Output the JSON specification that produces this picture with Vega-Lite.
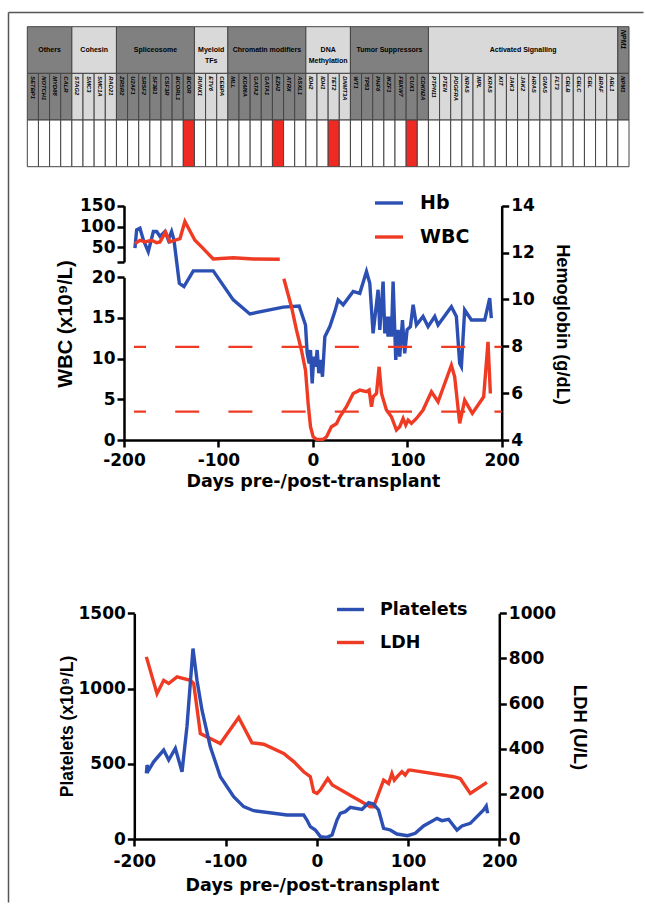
{
  "$schema": "https://vega.github.io/schema/vega-lite/v6.json",
  "width": 637,
  "height": 894,
  "autosize": {"type": "none"},
  "padding": {"left": 8, "top": 12, "right": 0, "bottom": 0},
  "background": "white",
  "view": {"stroke": null, "fill": null},
  "config": {
    "axis": {"domainColor": "black", "domainWidth": 2.5, "tickColor": "black", "tickWidth": 2.5, "tickSize": 7, "labelFont": "DejaVu Sans", "labelFontWeight": "bold", "labelFontSize": 17, "labelColor": "black", "titleColor": "black", "titleFont": "Liberation Sans", "titleFontWeight": "bold", "titleFontSize": 18, "grid": false, "labelPadding": 2, "labelFlush": false, "labelOverlap": false},
    "line": {"strokeWidth": 3.4}
  },
  "datasets": {
    "genes": [
      {"g": "SETBP1", "c": "Others", "m": 0}, {"g": "NOTCH1", "c": "Others", "m": 0}, {"g": "MYD88", "c": "Others", "m": 0}, {"g": "CALR", "c": "Others", "m": 0},
      {"g": "STAG2", "c": "Cohesin", "m": 0}, {"g": "SMC3", "c": "Cohesin", "m": 0}, {"g": "SMC1A", "c": "Cohesin", "m": 0}, {"g": "RAD21", "c": "Cohesin", "m": 0},
      {"g": "ZRSR2", "c": "Spliceosome", "m": 0}, {"g": "U2AF1", "c": "Spliceosome", "m": 0}, {"g": "SRSF2", "c": "Spliceosome", "m": 0}, {"g": "SF3B1", "c": "Spliceosome", "m": 0}, {"g": "CSF3R", "c": "Spliceosome", "m": 0}, {"g": "BCORL1", "c": "Spliceosome", "m": 0}, {"g": "BCOR", "c": "Spliceosome", "m": 1},
      {"g": "RUNX1", "c": "Myeloid TFs", "m": 0}, {"g": "ETV6", "c": "Myeloid TFs", "m": 0}, {"g": "CEBPA", "c": "Myeloid TFs", "m": 0},
      {"g": "MLL", "c": "Chromatin modifiers", "m": 0}, {"g": "KDM6A", "c": "Chromatin modifiers", "m": 0}, {"g": "GATA2", "c": "Chromatin modifiers", "m": 0}, {"g": "GATA1", "c": "Chromatin modifiers", "m": 0}, {"g": "EZH2", "c": "Chromatin modifiers", "m": 1}, {"g": "ATRX", "c": "Chromatin modifiers", "m": 0}, {"g": "ASXL1", "c": "Chromatin modifiers", "m": 0},
      {"g": "IDH2", "c": "DNA Methylation", "m": 0}, {"g": "IDH1", "c": "DNA Methylation", "m": 0}, {"g": "TET2", "c": "DNA Methylation", "m": 1}, {"g": "DNMT3A", "c": "DNA Methylation", "m": 0},
      {"g": "WT1", "c": "Tumor Suppressors", "m": 0}, {"g": "TP53", "c": "Tumor Suppressors", "m": 0}, {"g": "PHF6", "c": "Tumor Suppressors", "m": 0}, {"g": "IKZF1", "c": "Tumor Suppressors", "m": 0}, {"g": "FBXW7", "c": "Tumor Suppressors", "m": 0}, {"g": "CUX1", "c": "Tumor Suppressors", "m": 1}, {"g": "CDKN2A", "c": "Tumor Suppressors", "m": 0},
      {"g": "PTPN11", "c": "Activated Signalling", "m": 0}, {"g": "PTEN", "c": "Activated Signalling", "m": 0}, {"g": "PDGFRA", "c": "Activated Signalling", "m": 0}, {"g": "NRAS", "c": "Activated Signalling", "m": 0}, {"g": "MPL", "c": "Activated Signalling", "m": 0}, {"g": "KRAS", "c": "Activated Signalling", "m": 0}, {"g": "KIT", "c": "Activated Signalling", "m": 0}, {"g": "JAK3", "c": "Activated Signalling", "m": 0}, {"g": "JAK2", "c": "Activated Signalling", "m": 0}, {"g": "HRAS", "c": "Activated Signalling", "m": 0}, {"g": "GNAS", "c": "Activated Signalling", "m": 0}, {"g": "FLT3", "c": "Activated Signalling", "m": 0}, {"g": "CBLB", "c": "Activated Signalling", "m": 0}, {"g": "CBLC", "c": "Activated Signalling", "m": 0}, {"g": "CBL", "c": "Activated Signalling", "m": 0}, {"g": "BRAF", "c": "Activated Signalling", "m": 0}, {"g": "ABL1", "c": "Activated Signalling", "m": 0},
      {"g": "NPM1", "c": "NPM1", "m": 0}
    ],
    "cats": [
      {"c": "Others", "lab": "Others", "first": "SETBP1", "last": "CALR", "mid": "MYD88", "even": 1},
      {"c": "Cohesin", "lab": "Cohesin", "first": "STAG2", "last": "RAD21", "mid": "SMC1A", "even": 1},
      {"c": "Spliceosome", "lab": "Spliceosome", "first": "ZRSR2", "last": "BCOR", "mid": "SF3B1", "even": 0},
      {"c": "Myeloid TFs", "lab": "Myeloid\nTFs", "first": "RUNX1", "last": "CEBPA", "mid": "ETV6", "even": 0},
      {"c": "Chromatin modifiers", "lab": "Chromatin modifiers", "first": "MLL", "last": "ASXL1", "mid": "GATA1", "even": 0},
      {"c": "DNA Methylation", "lab": "DNA\nMethylation", "first": "IDH2", "last": "DNMT3A", "mid": "TET2", "even": 1},
      {"c": "Tumor Suppressors", "lab": "Tumor Suppressors", "first": "WT1", "last": "CDKN2A", "mid": "IKZF1", "even": 0},
      {"c": "Activated Signalling", "lab": "Activated Signalling", "first": "PTPN11", "last": "ABL1", "mid": "JAK2", "even": 0},
      {"c": "NPM1", "lab": "NPM1", "first": "NPM1", "last": "NPM1", "mid": "NPM1", "even": 2}
    ],
    "hb": [
      {"d": -188.4, "v": 12.19}, {"d": -186.6, "v": 12.97}, {"d": -183.1, "v": 13.04}, {"d": -179.5, "v": 12.54}, {"d": -174.3, "v": 12.04}, {"d": -168.9, "v": 12.9}, {"d": -165.4, "v": 12.9}, {"d": -161.9, "v": 12.69}, {"d": -156.6, "v": 12.9}, {"d": -153.1, "v": 12.54}, {"d": -149.6, "v": 12.9}, {"d": -147.1, "v": 12.54}, {"d": -141.4, "v": 10.69}, {"d": -136.5, "v": 10.55}, {"d": -126.6, "v": 11.22}, {"d": -105.5, "v": 11.22}, {"d": -84.3, "v": 9.98}, {"d": -66.7, "v": 9.38}, {"d": -31.4, "v": 9.67}, {"d": -14.5, "v": 9.72}, {"d": -7.8, "v": 8.91}, {"d": -6.0, "v": 7.7}, {"d": -3.9, "v": 7.27}, {"d": -2.5, "v": 7.84}, {"d": -0.7, "v": 6.42}, {"d": 1.0, "v": 7.56}, {"d": 2.8, "v": 7.13}, {"d": 4.6, "v": 7.84}, {"d": 6.3, "v": 6.85}, {"d": 8.4, "v": 7.42}, {"d": 10.2, "v": 6.7}, {"d": 12.7, "v": 8.41}, {"d": 18.0, "v": 8.84}, {"d": 23.3, "v": 9.48}, {"d": 26.8, "v": 9.98}, {"d": 32.1, "v": 9.77}, {"d": 42.7, "v": 10.34}, {"d": 49.7, "v": 10.26}, {"d": 56.8, "v": 11.19}, {"d": 60.3, "v": 10.69}, {"d": 63.8, "v": 8.55}, {"d": 69.1, "v": 10.41}, {"d": 70.9, "v": 8.7}, {"d": 74.4, "v": 10.76}, {"d": 76.2, "v": 8.55}, {"d": 77.9, "v": 9.27}, {"d": 79.7, "v": 8.41}, {"d": 81.5, "v": 9.27}, {"d": 83.2, "v": 8.41}, {"d": 85.0, "v": 10.76}, {"d": 87.8, "v": 7.42}, {"d": 90.3, "v": 8.7}, {"d": 92.0, "v": 7.56}, {"d": 94.9, "v": 9.12}, {"d": 97.3, "v": 7.7}, {"d": 99.8, "v": 8.7}, {"d": 103.3, "v": 8.84}, {"d": 106.2, "v": 9.77}, {"d": 109.7, "v": 8.91}, {"d": 116.7, "v": 9.27}, {"d": 122.0, "v": 8.84}, {"d": 129.1, "v": 9.27}, {"d": 132.6, "v": 8.91}, {"d": 146.7, "v": 9.69}, {"d": 152.0, "v": 9.27}, {"d": 155.5, "v": 7.27}, {"d": 157.3, "v": 7.13}, {"d": 160.8, "v": 9.55}, {"d": 167.9, "v": 9.12}, {"d": 182.0, "v": 9.12}, {"d": 187.3, "v": 10.05}, {"d": 189.0, "v": 9.2}
    ],
    "wbcU": [
      {"d": -188.4, "v": 59}, {"d": -183.1, "v": 67}, {"d": -177.8, "v": 63}, {"d": -170.7, "v": 67}, {"d": -165.4, "v": 61}, {"d": -161.9, "v": 63}, {"d": -156, "v": 87}, {"d": -151.3, "v": 63}, {"d": -146, "v": 67}, {"d": -140.7, "v": 71}, {"d": -135.5, "v": 112}, {"d": -124.9, "v": 67}, {"d": -117.8, "v": 51}, {"d": -105.5, "v": 22}, {"d": -84.3, "v": 25}, {"d": -63.2, "v": 22}, {"d": -35, "v": 21.5}
    ],
    "wbcL": [
      {"d": -30.7, "v": 19.83}, {"d": -22.6, "v": 16.35}, {"d": -17.3, "v": 13.5}, {"d": -12, "v": 11.0}, {"d": -7.8, "v": 8.6}, {"d": -5.0, "v": 4.5}, {"d": -2.5, "v": 1.63}, {"d": 0.3, "v": 0.4}, {"d": 3.9, "v": 0.08}, {"d": 10.9, "v": 0.08}, {"d": 14.5, "v": 0.4}, {"d": 19.7, "v": 1.63}, {"d": 25, "v": 2.0}, {"d": 28.6, "v": 2.86}, {"d": 35.6, "v": 4.09}, {"d": 42.7, "v": 5.72}, {"d": 49.7, "v": 6.13}, {"d": 56.8, "v": 5.93}, {"d": 59.6, "v": 6.13}, {"d": 62.1, "v": 4.09}, {"d": 63.8, "v": 5.31}, {"d": 67.4, "v": 5.72}, {"d": 70.2, "v": 9.0}, {"d": 72.7, "v": 5.72}, {"d": 77.9, "v": 3.68}, {"d": 83.2, "v": 2.86}, {"d": 88.5, "v": 1.23}, {"d": 92.0, "v": 1.63}, {"d": 95.6, "v": 2.65}, {"d": 98.4, "v": 1.84}, {"d": 100.9, "v": 2.45}, {"d": 104.4, "v": 2.04}, {"d": 109.7, "v": 2.65}, {"d": 116.7, "v": 3.68}, {"d": 125.6, "v": 5.93}, {"d": 132.6, "v": 4.7}, {"d": 146.7, "v": 9.2}, {"d": 150.2, "v": 7.77}, {"d": 155.5, "v": 2.04}, {"d": 160.8, "v": 4.9}, {"d": 168.9, "v": 3.27}, {"d": 180.9, "v": 5.31}, {"d": 185.5, "v": 12.06}, {"d": 188, "v": 5.72}
    ],
    "refs": [{"v": 11.45}, {"v": 3.5}],
    "plt": [
      {"d": -186.8, "v": 436}, {"d": -186, "v": 491}, {"d": -184.3, "v": 458}, {"d": -178.8, "v": 513}, {"d": -167.8, "v": 591}, {"d": -162.3, "v": 525}, {"d": -155, "v": 602}, {"d": -147.7, "v": 447}, {"d": -142.3, "v": 746}, {"d": -135.7, "v": 1266}, {"d": -131.3, "v": 1055}, {"d": -125.8, "v": 856}, {"d": -116.7, "v": 613}, {"d": -105.7, "v": 414}, {"d": -91.1, "v": 281}, {"d": -80.2, "v": 215}, {"d": -69.2, "v": 188}, {"d": -47.3, "v": 171}, {"d": -32.7, "v": 160}, {"d": -14.4, "v": 160}, {"d": -10.8, "v": 126}, {"d": -7.1, "v": 82}, {"d": -1.6, "v": 60}, {"d": 3.9, "v": 16}, {"d": 11.2, "v": 11}, {"d": 16.7, "v": 27}, {"d": 22.1, "v": 126}, {"d": 25.7, "v": 171}, {"d": 31.2, "v": 182}, {"d": 36.7, "v": 210}, {"d": 49.5, "v": 197}, {"d": 56.8, "v": 241}, {"d": 62.2, "v": 232}, {"d": 67.7, "v": 193}, {"d": 73.2, "v": 71}, {"d": 80.5, "v": 60}, {"d": 87.8, "v": 33}, {"d": 99.5, "v": 22}, {"d": 107.9, "v": 38}, {"d": 117.0, "v": 87}, {"d": 131.7, "v": 137}, {"d": 137.1, "v": 122}, {"d": 144.4, "v": 131}, {"d": 153.6, "v": 60}, {"d": 159.1, "v": 87}, {"d": 168.2, "v": 104}, {"d": 182.8, "v": 193}, {"d": 185.7, "v": 219}, {"d": 187.2, "v": 171}
    ],
    "ldh": [
      {"d": -186.8, "v": 807}, {"d": -175.1, "v": 644}, {"d": -167.8, "v": 703}, {"d": -162.3, "v": 689}, {"d": -153.2, "v": 718}, {"d": -138.6, "v": 703}, {"d": -134.9, "v": 689}, {"d": -127.6, "v": 467}, {"d": -105.7, "v": 423}, {"d": -85.6, "v": 538}, {"d": -71.0, "v": 426}, {"d": -58.2, "v": 420}, {"d": -36.3, "v": 379}, {"d": -25, "v": 342}, {"d": -14.4, "v": 298}, {"d": -7.1, "v": 276}, {"d": -3.4, "v": 209}, {"d": 0.2, "v": 202}, {"d": 3.9, "v": 217}, {"d": 12, "v": 268}, {"d": 17, "v": 239}, {"d": 58.6, "v": 143}, {"d": 62.2, "v": 143}, {"d": 73.2, "v": 261}, {"d": 78.7, "v": 246}, {"d": 82.3, "v": 290}, {"d": 84.9, "v": 261}, {"d": 89.6, "v": 283}, {"d": 93.3, "v": 298}, {"d": 96.9, "v": 283}, {"d": 100.6, "v": 305}, {"d": 103, "v": 305}, {"d": 149.9, "v": 276}, {"d": 157.2, "v": 268}, {"d": 168.2, "v": 202}, {"d": 186.4, "v": 251}
    ]
  },
  "resolve": {
    "scale": {"x": "independent", "y": "independent", "color": "independent"},
    "axis": {"x": "independent", "y": "independent"},
    "legend": {"color": "independent"}
  },
  "layer": [
    {
      "data": {"name": "refs"},
      "mark": {"type": "point", "opacity": 0},
      "encoding": {
        "x": {"datum": 0, "type": "quantitative", "scale": {"domain": [0, 1], "range": [0, 635], "nice": false, "zero": false},
          "axis": {"orient": "top", "offset": 0, "ticks": false, "labels": false, "title": null, "domainColor": "#555555", "domainWidth": 1.5}},
        "y": {"datum": 0, "type": "quantitative", "scale": {"domain": [0, 1], "range": [0, 890], "nice": false, "zero": false},
          "axis": {"orient": "left", "offset": 0, "ticks": false, "labels": false, "title": null, "domainColor": "#555555", "domainWidth": 1.5}}
      }
    },
    {
      "layer": [
        {
          "data": {"name": "cats"},
          "mark": {"type": "rect", "stroke": "#444444", "strokeWidth": 1},
          "encoding": {
            "x": {"field": "first", "type": "nominal", "bandPosition": 0, "axis": null,
              "scale": {"type": "band", "domain": ["SETBP1","NOTCH1","MYD88","CALR","STAG2","SMC3","SMC1A","RAD21","ZRSR2","U2AF1","SRSF2","SF3B1","CSF3R","BCORL1","BCOR","RUNX1","ETV6","CEBPA","MLL","KDM6A","GATA2","GATA1","EZH2","ATRX","ASXL1","IDH2","IDH1","TET2","DNMT3A","WT1","TP53","PHF6","IKZF1","FBXW7","CUX1","CDKN2A","PTPN11","PTEN","PDGFRA","NRAS","MPL","KRAS","KIT","JAK3","JAK2","HRAS","GNAS","FLT3","CBLB","CBLC","CBL","BRAF","ABL1","NPM1"], "range": [19.3, 621], "paddingInner": 0, "paddingOuter": 0}},
            "x2": {"field": "last", "bandPosition": 1},
            "y": {"datum": 0, "type": "quantitative", "axis": null, "scale": {"domain": [0, 3], "range": [14.7, 154.7], "nice": false, "zero": false}},
            "y2": {"datum": 1},
            "fill": {"condition": {"test": "indexof(['Others','Spliceosome','Chromatin modifiers','Tumor Suppressors','NPM1'], datum.c) >= 0", "value": "#808080"}, "value": "#d9d9d9"}
          }
        },
        {
          "data": {"name": "genes"},
          "mark": {"type": "rect", "stroke": "#444444", "strokeWidth": 1},
          "encoding": {
            "x": {"field": "g", "type": "nominal", "axis": null},
            "y": {"datum": 1, "type": "quantitative"},
            "y2": {"datum": 2},
            "fill": {"condition": {"test": "indexof(['Others','Spliceosome','Chromatin modifiers','Tumor Suppressors','NPM1'], datum.c) >= 0", "value": "#808080"}, "value": "#d9d9d9"}
          }
        },
        {
          "data": {"name": "genes"},
          "mark": {"type": "rect", "stroke": "#444444", "strokeWidth": 1},
          "encoding": {
            "x": {"field": "g", "type": "nominal", "axis": null},
            "y": {"datum": 2, "type": "quantitative"},
            "y2": {"datum": 3},
            "fill": {"condition": {"test": "datum.m == 1", "value": "#ee2a22"}, "value": "white"}
          }
        },
        {
          "data": {"name": "genes"},
          "mark": {"type": "text", "angle": 90, "align": "left", "baseline": "middle", "dx": 3, "font": "Liberation Sans Narrow, Liberation Sans, sans-serif", "fontSize": 5.8, "fontWeight": "bold", "fontStyle": "italic", "color": "black"},
          "encoding": {
            "x": {"field": "g", "type": "nominal", "axis": null},
            "y": {"datum": 1, "type": "quantitative"},
            "text": {"field": "g"}
          }
        },
        {
          "data": {"name": "cats"},
          "transform": [{"filter": "datum.even == 1"}],
          "mark": {"type": "text", "align": "center", "baseline": "middle", "lineBreak": "\n", "lineHeight": 11, "font": "Liberation Sans Narrow, Liberation Sans, sans-serif", "fontSize": 7, "fontWeight": "bold", "color": "black"},
          "encoding": {
            "x": {"field": "mid", "type": "nominal", "bandPosition": 0, "axis": null},
            "y": {"datum": 0.5, "type": "quantitative"},
            "text": {"field": "lab"}
          }
        },
        {
          "data": {"name": "cats"},
          "transform": [{"filter": "datum.even == 0"}],
          "mark": {"type": "text", "align": "center", "baseline": "middle", "lineBreak": "\n", "lineHeight": 11, "font": "Liberation Sans Narrow, Liberation Sans, sans-serif", "fontSize": 7, "fontWeight": "bold", "color": "black"},
          "encoding": {
            "x": {"field": "mid", "type": "nominal", "axis": null},
            "y": {"datum": 0.5, "type": "quantitative"},
            "text": {"field": "lab"}
          }
        },
        {
          "data": {"name": "cats"},
          "transform": [{"filter": "datum.even == 2"}],
          "mark": {"type": "text", "angle": 90, "align": "left", "baseline": "middle", "dx": 3, "font": "Liberation Sans Narrow, Liberation Sans, sans-serif", "fontSize": 7, "fontWeight": "bold", "fontStyle": "italic", "color": "black"},
          "encoding": {
            "x": {"field": "mid", "type": "nominal", "axis": null},
            "y": {"datum": 0, "type": "quantitative"},
            "text": {"field": "lab"}
          }
        }
      ]
    },
    {
      "resolve": {"scale": {"y": "independent"}, "axis": {"y": "independent"}},
      "layer": [
        {
          "data": {"name": "hb"},
          "mark": {"type": "line", "strokeWidth": 3.4},
          "encoding": {
            "x": {"field": "d", "type": "quantitative",
              "scale": {"domain": [-200, 200], "range": [116, 493.7], "nice": false, "zero": false},
              "axis": {"orient": "bottom", "offset": -466, "values": [-200, -100, 0, 100, 200], "labelExpr": "'' + datum.value", "labelPadding": 5, "title": "Days pre-/post-transplant", "titleFont": "DejaVu Sans", "titleFontSize": 17.5, "titleX": 305, "titleY": 41, "titleAlign": "center", "titleBaseline": "middle", "titleAngle": 0}},
            "y": {"field": "v", "type": "quantitative",
              "scale": {"domain": [4, 14], "range": [428, 193.7], "nice": false, "zero": false},
              "axis": {"orient": "right", "offset": -143.3, "values": [4, 6, 8, 10, 12, 14], "labelExpr": "'' + datum.value", "title": "Hemoglobin (g/dL)", "titleFontSize": 18.2, "titleAngle": 90, "titleX": 59.3, "titleY": 312, "titleAlign": "center", "titleBaseline": "middle"}},
            "color": {"datum": "Hb", "type": "nominal",
              "scale": {"domain": ["Hb", "WBC"], "range": ["#2b4fb3", "#ef3b24"]},
              "legend": {"orient": "none", "legendX": 365, "legendY": 175, "direction": "vertical", "title": null, "symbolType": "stroke", "symbolSize": 784, "symbolStrokeWidth": 3.5, "labelFont": "DejaVu Sans", "labelFontSize": 19, "labelFontWeight": "bold", "labelColor": "black", "labelOffset": 15, "rowPadding": 8, "padding": 0}}
          }
        },
        {
          "data": {"name": "wbcU"},
          "mark": {"type": "line", "strokeWidth": 3.4},
          "encoding": {
            "x": {"field": "d", "type": "quantitative"},
            "y": {"field": "v", "type": "quantitative",
              "scale": {"domain": [15, 150], "range": [249.9, 193.7], "nice": false, "zero": false},
              "axis": {"orient": "left", "offset": -116, "values": [15, 50, 100, 150], "labelExpr": "datum.value == 15 ? '' : '' + datum.value", "title": null}},
            "color": {"datum": "WBC", "type": "nominal"}
          }
        },
        {
          "layer": [
            {
              "data": {"name": "wbcL"},
              "mark": {"type": "line", "strokeWidth": 3.4},
              "encoding": {
                "x": {"field": "d", "type": "quantitative"},
                "y": {"field": "v", "type": "quantitative",
                  "scale": {"domain": [0, 20], "range": [428, 265.3], "nice": false, "zero": false},
                  "axis": {"orient": "left", "offset": -116, "values": [0, 5, 10, 15, 20], "labelExpr": "'' + datum.value", "title": "WBC (x10⁹/L)", "titleFontSize": 20, "titleAngle": -90, "titleX": -59, "titleY": 311.5, "titleAlign": "center", "titleBaseline": "middle"}},
                "color": {"datum": "WBC", "type": "nominal"}
              }
            },
            {
              "data": {"name": "refs"},
              "mark": {"type": "rule", "strokeDash": [24, 29.2], "strokeDashOffset": 12, "strokeWidth": 2.2, "color": "#ef3b24"},
              "encoding": {
                "x": {"datum": -189.4, "type": "quantitative"},
                "x2": {"datum": 200},
                "y": {"field": "v", "type": "quantitative"}
              }
            }
          ]
        }
      ]
    },
    {
      "resolve": {"scale": {"y": "independent"}, "axis": {"y": "independent"}},
      "layer": [
        {
          "data": {"name": "ldh"},
          "mark": {"type": "line", "strokeWidth": 3.4},
          "encoding": {
            "x": {"field": "d", "type": "quantitative",
              "scale": {"domain": [-200, 200], "range": [126.3, 491.3], "nice": false, "zero": false},
              "axis": {"orient": "bottom", "offset": -67, "values": [-200, -100, 0, 100, 200], "labelExpr": "'' + datum.value", "labelPadding": 7, "title": "Days pre-/post-transplant", "titleFont": "DejaVu Sans", "titleFontSize": 17.5, "titleX": 304, "titleY": 46, "titleAlign": "center", "titleBaseline": "middle", "titleAngle": 0}},
            "y": {"field": "v", "type": "quantitative",
              "scale": {"domain": [0, 1000], "range": [827, 601.3], "nice": false, "zero": false},
              "axis": {"orient": "right", "offset": -145.7, "values": [0, 200, 400, 600, 800, 1000], "labelExpr": "'' + datum.value", "title": "LDH (U/L)", "titleFontSize": 18.5, "titleAngle": 90, "titleX": 79.7, "titleY": 715, "titleAlign": "center", "titleBaseline": "middle"}},
            "color": {"datum": "LDH", "type": "nominal",
              "scale": {"domain": ["Platelets", "LDH"], "range": ["#2b4fb3", "#ef3b24"]},
              "legend": {"orient": "none", "legendX": 327, "legendY": 582, "direction": "vertical", "title": null, "symbolType": "stroke", "symbolSize": 729, "symbolStrokeWidth": 3.5, "labelFont": "DejaVu Sans", "labelFontSize": 17.5, "labelFontWeight": "bold", "labelColor": "black", "labelOffset": 14, "rowPadding": 9, "padding": 0}}
          }
        },
        {
          "data": {"name": "plt"},
          "mark": {"type": "line", "strokeWidth": 3.4},
          "encoding": {
            "x": {"field": "d", "type": "quantitative"},
            "y": {"field": "v", "type": "quantitative",
              "scale": {"domain": [0, 1500], "range": [827, 601.3], "nice": false, "zero": false},
              "axis": {"orient": "left", "offset": -126.3, "values": [0, 500, 1000, 1500], "labelExpr": "'' + datum.value", "title": "Platelets (x10⁹/L)", "titleFontSize": 17.5, "titleAngle": -90, "titleX": -67.3, "titleY": 714, "titleAlign": "center", "titleBaseline": "middle"}},
            "color": {"datum": "Platelets", "type": "nominal"}
          }
        }
      ]
    }
  ]
}
